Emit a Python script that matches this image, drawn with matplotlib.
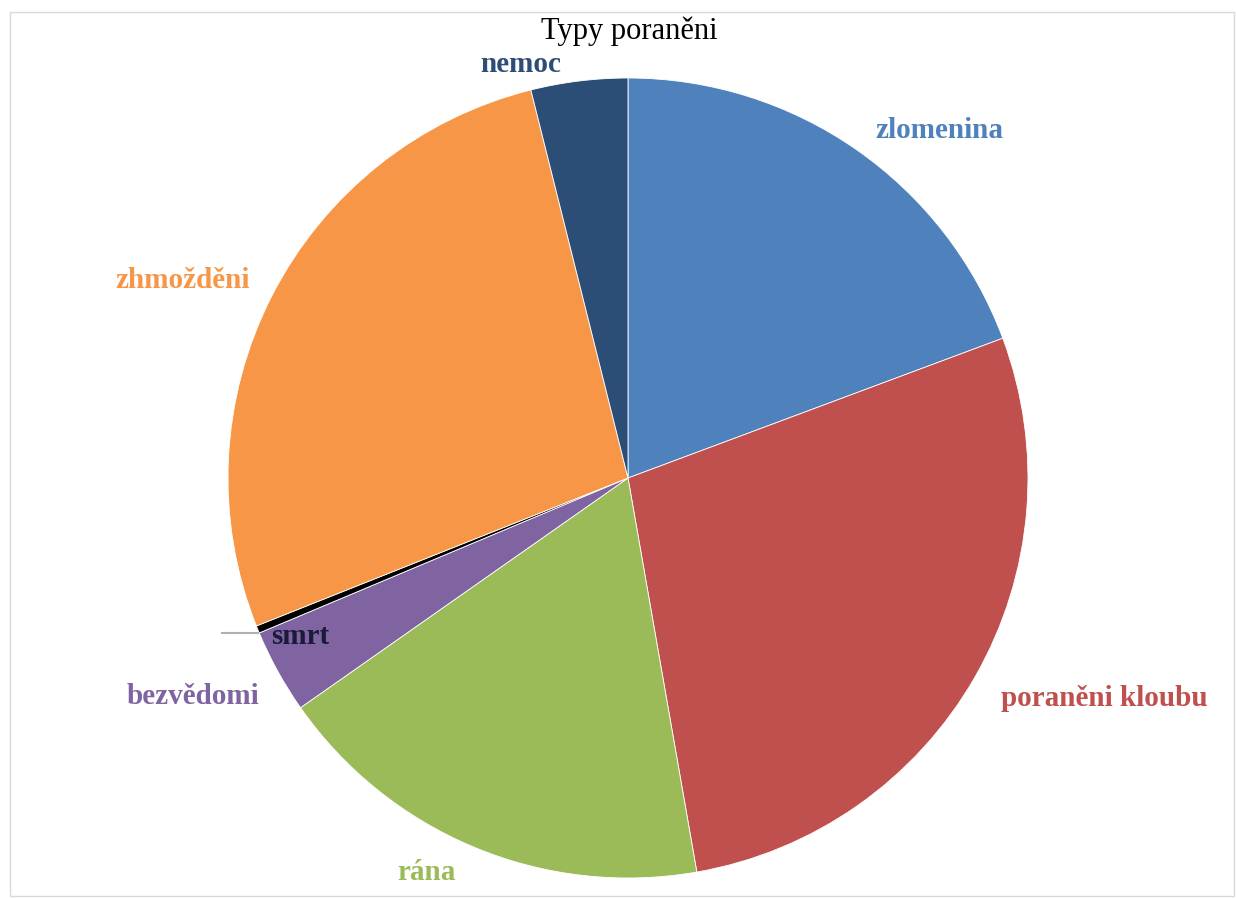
import matplotlib
matplotlib.use("Agg")
import matplotlib.pyplot as plt
from matplotlib.patches import Rectangle

# ---- data ----
categories = ["zlomenina", "poraněni kloubu", "rána", "bezvědomi", "smrt", "zhmožděni", "nemoc"]
values = [19.3, 27.9, 18.0, 3.4, 0.3, 27.1, 3.9]
title = "Typy poraněni"

# ---- styles ----
wedge_colors = ["#4F81BD", "#C0504D", "#9BBB59", "#8064A2", "#000000", "#F79646", "#2C4D75"]
label_colors = ["#4F81BD", "#C0504D", "#9BBB59", "#8064A2", "#1A1A3A", "#F79646", "#2C4D75"]
label_pos = [(939, 131), (1104, 698), (426, 872), (193, 697), (300, 637), (183, 281), (521, 65)]

W, H = 1236, 898
fig = plt.figure(figsize=(W / 100, H / 100), dpi=100)
ax = fig.add_axes([0, 0, 1, 1])

cx, cy, r = 628, H - 478, 400
ax.pie(values, colors=wedge_colors, startangle=90, counterclock=False,
       center=(cx, cy), radius=r, frame=True,
       wedgeprops=dict(edgecolor="white", linewidth=0.6))
ax.set_xlim(0, W)
ax.set_ylim(0, H)
ax.set_aspect("equal")
ax.axis("off")

font = "Liberation Serif"
for lab, col, (x, y) in zip(categories, label_colors, label_pos):
    ax.text(x, H - y, lab, color=col, fontsize=21, fontweight="bold",
            family=font, ha="center", va="center")

# leader line for smrt
ax.plot([222, 258], [H - 633, H - 633], color="#B0B0B0", lw=1.5)

ax.text(629, H - 31, title, fontsize=22, family=font, ha="center", va="center", color="black")

# chart frame
ax.add_patch(Rectangle((10, 2), W - 12, H - 14, fill=False, edgecolor="#D9D9D9", lw=1))

fig.savefig("out.png", dpi=100)
